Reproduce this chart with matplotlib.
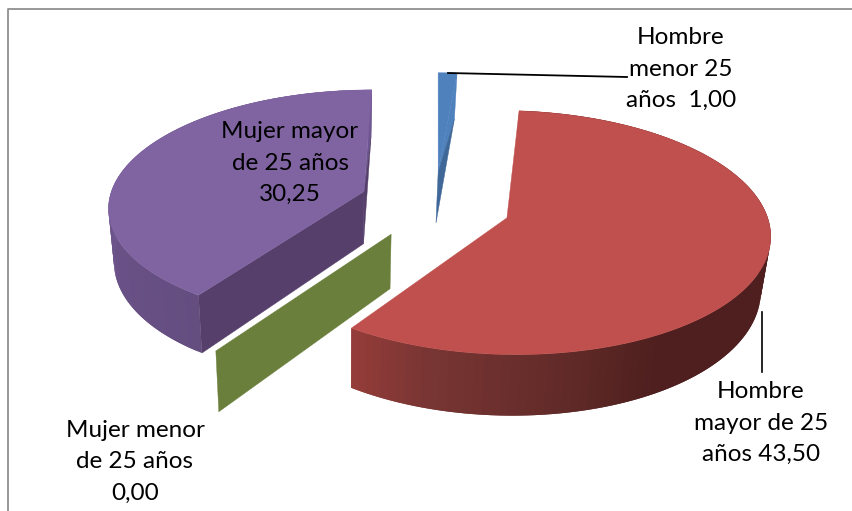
import numpy as np
import matplotlib
matplotlib.use("Agg")
import matplotlib.pyplot as plt

# data labels and values
categories = ["Hombre menor 25 años", "Hombre mayor de 25 años", "Mujer menor de 25 años", "Mujer mayor de 25 años"]
values = [1.00, 43.50, 0.00, 30.25]
label_lines = ["Hombre\nmenor 25\naños  {}", "Hombre\nmayor de 25\naños {}", "Mujer menor\nde 25 años\n{}", "Mujer mayor\nde 25 años\n{}"]

# fake 3d camera, all in pixels
CX, XC, Y0 = 435.0, 438.0, 205.0
RADIUS, B, P, DEPTH = 260.0, 118.4, 0.12, 53.0
SHRINK, SHRINK_X = 0.9767, 344.0
# explosion per slice, small hand tweaks on top of it
EXPLODE = [0.29, 0.29, 0.29, 0.29]
SCALE = [1.0, 0.99, 1.01, 0.985]
V_NUDGE = [0.0, -0.01, 0.0, 0.03]

TOP_COLORS = ["#4f81bd", "#c0504d", "#6a7f3b", "#8064a2"]
LABEL_POS = [(681, 69), (761, 423), (135, 462), (290, 163)]


def project(theta, r, mid, i, bottom=False):
    # theta in degrees clockwise from the back of the pie
    t = np.radians(theta)
    m = np.radians(mid)
    u = r * SCALE[i] * np.sin(t) + EXPLODE[i] * np.sin(m)
    v = r * SCALE[i] * np.cos(t) + EXPLODE[i] * np.cos(m) + V_NUDGE[i]
    s = 1.0 / (1.0 + P * v)
    x = XC + (CX - XC + RADIUS * u) * s
    y = Y0 - B * v * s
    if bottom:
        x = SHRINK_X + (x - SHRINK_X) * SHRINK
        y = y + DEPTH * s
    return x, y


def top_face(a0, a1, i, color, ax):
    mid = (a0 + a1) / 2
    th = np.linspace(a0, a1, 200)
    xs, ys = project(th, 1.0, mid, i)
    ax_x, ax_y = project(0.0, 0.0, mid, i)
    ax.fill(np.r_[ax_x, xs], np.r_[ax_y, ys], color=color, lw=0.3, zorder=ax.zo)
    ax.zo += 1


def outer_side(a0, a1, i, stops, ax):
    # gradient along the rim, quads overlap so no seams show
    mid = (a0 + a1) / 2
    th = np.linspace(a0, a1, 120)
    angles = [p[0] for p in stops]
    rgb = np.array([matplotlib.colors.to_rgb(p[1]) for p in stops])
    for k in range(len(th) - 1):
        seg = th[k:k + 3]
        tx, ty = project(seg, 1.0, mid, i)
        bx, by = project(seg, 1.0, mid, i, bottom=True)
        c = [np.interp(th[k], angles, rgb[:, j]) for j in range(3)]
        ax.fill(np.r_[tx, bx[::-1]], np.r_[ty, by[::-1]], color=c, lw=0, zorder=ax.zo)
    ax.zo += 1


def cut_face(theta, mid, i, color, ax, upper=None):
    ox, oy = project(theta, 1.0, mid, i)
    obx, oby = project(theta, 1.0, mid, i, bottom=True)
    ax_x, ax_y = project(0.0, 0.0, mid, i)
    abx, aby = project(0.0, 0.0, mid, i, bottom=True)
    if upper is None:
        ax.fill([ax_x, ox, obx, abx], [ax_y, oy, oby, aby], color=color, lw=0.3, zorder=ax.zo)
    else:
        ax.fill([ax_x, ox, obx], [ax_y, oy, oby], color=upper, lw=0.3, zorder=ax.zo)
        ax.fill([ax_x, obx, abx], [ax_y, oby, aby], color=color, lw=0.3, zorder=ax.zo)
    ax.zo += 1


plt.rcParams["font.family"] = ["Lato", "DejaVu Sans"]
fig = plt.figure(figsize=(8.52, 5.11), dpi=100)
ax = fig.add_axes([0, 0, 1, 1])
ax.set_xlim(0, 852)
ax.set_ylim(511, 0)
ax.axis("off")
ax.zo = 2

# slice angles come from the values, first slice starts at the back
edges = np.r_[0, np.cumsum(values)] / np.sum(values) * 360.0
mids = (edges[:-1] + edges[1:]) / 2

# chart frame, only top and left survive the crop
ax.plot([8, 8, 852], [511, 9.5, 9.5], color="#909090", lw=1.3, zorder=1)

# blue, back slice
cut_face(edges[1], mids[0], 0, "#3f6797", ax, upper="#4f81bd")
top_face(edges[0], edges[1], 0, TOP_COLORS[0], ax)

# purple
cut_face(edges[4], mids[3], 3, "#573f6b", ax, upper="#6d5790")
outer_side(edges[3], edges[4], 3, [(214, "#644d7f"), (250, "#6a5288"), (290, "#705691"), (360, "#705691")], ax)
cut_face(edges[3], mids[3], 3, "#563f6a", ax)
top_face(edges[3], edges[4], 3, TOP_COLORS[3], ax)

# green slice has no angle, only its cut face shows
cut_face(edges[3], mids[2], 2, TOP_COLORS[2], ax)

# red
outer_side(edges[1], edges[2], 1, [(90, "#4e1f1e"), (150, "#4e1f1e"), (168, "#602a28"), (196, "#783533"), (214, "#963d3a")], ax)
top_face(edges[1], edges[2], 1, TOP_COLORS[1], ax)

# leader lines
ax.plot([448, 627], [73, 77], color="black", lw=1.3, zorder=30)
ax.plot([762, 762], [312, 372], color="black", lw=1.2, zorder=30)

for txt, v, (x, y) in zip(label_lines, values, LABEL_POS):
    s = txt.format(f"{v:.2f}".replace(".", ","))
    ax.text(x, y, s, ha="center", va="center", fontsize=17.5, linespacing=1.6, color="black", zorder=40)

fig.savefig("out.png", dpi=100)
